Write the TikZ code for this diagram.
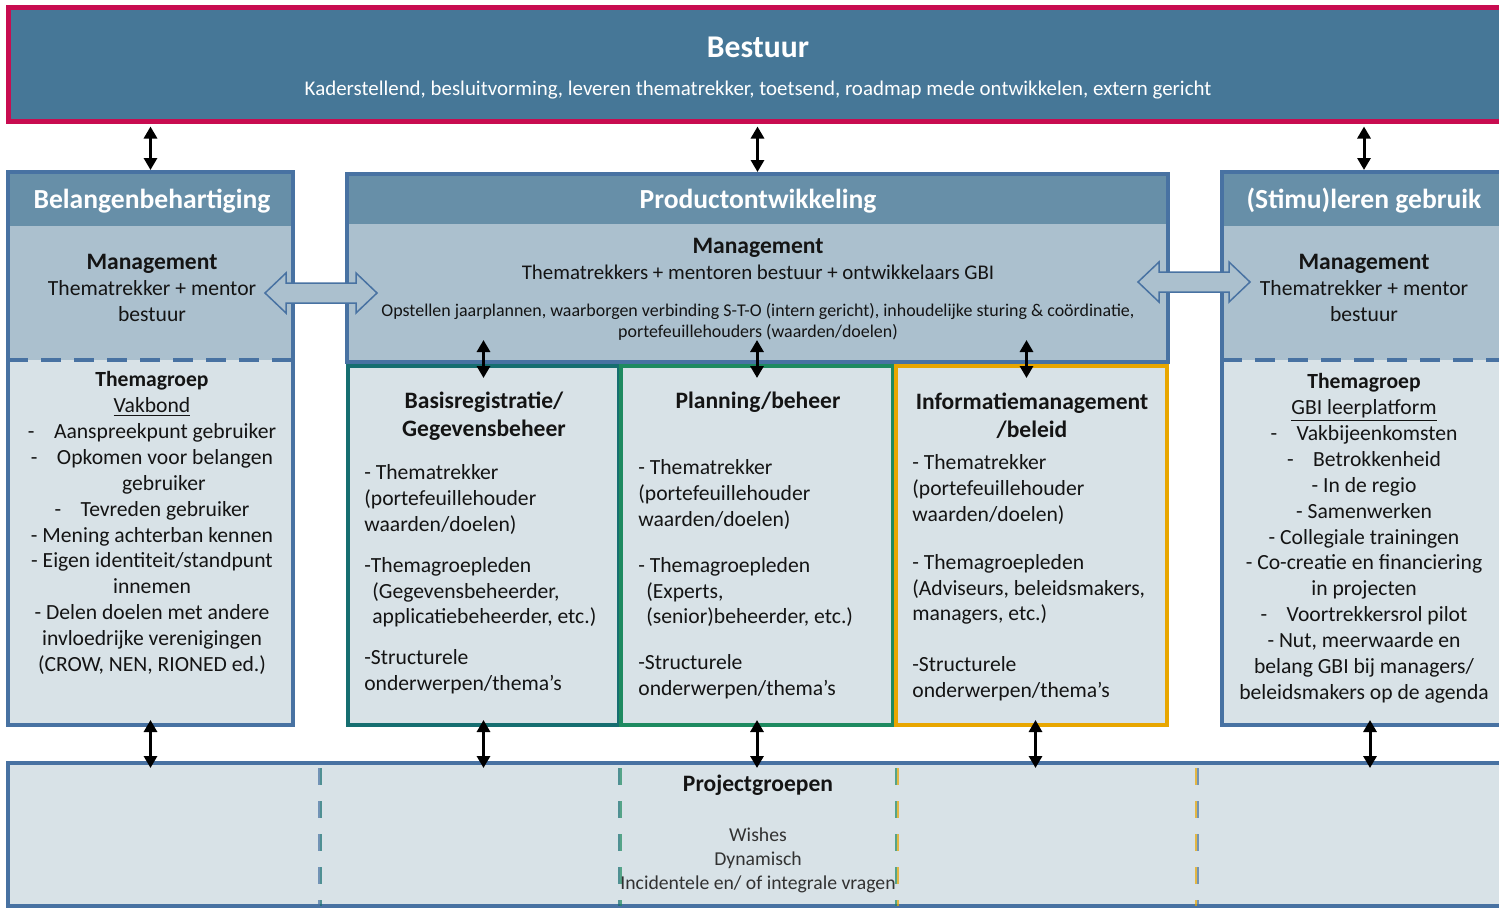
\documentclass[tikz,border=0pt]{standalone}
\usepackage{fontspec}
\setmainfont{Carlito}
\usetikzlibrary{arrows.meta,calc,fit,positioning}
\definecolor{bestuurblue}{RGB}{70,119,151}
\definecolor{bestuurred}{RGB}{200,12,80}
\definecolor{kopblue}{RGB}{103,143,168}
\definecolor{mgmtblue}{RGB}{171,192,206}
\definecolor{paleblue}{RGB}{216,226,231}
\definecolor{randblue}{RGB}{72,114,162}
\definecolor{randteal}{RGB}{22,110,112}
\definecolor{randgreen}{RGB}{30,138,96}
\definecolor{randorange}{RGB}{232,166,0}
\definecolor{tekst}{RGB}{20,20,20}
\definecolor{grijs}{RGB}{50,50,50}
\newcommand{\kop}{\fontsize{15.7}{18}\selectfont\bfseries}
\newcommand{\mgt}{\fontsize{13.4}{15.9}\selectfont\bfseries}
\newcommand{\gewoon}{\fontsize{12.3}{14.75}\selectfont}
\newcommand{\klein}{\fontsize{10.2}{11.9}\selectfont}
\newcommand{\streep}{-\hspace{0.9em}}
\tikzset{
  vak/.style={inner sep=0pt,line width=0.8mm},
  twoway/.style={line width=0.6mm,{Triangle[length=2.4mm,width=2.6mm]}-{Triangle[length=2.4mm,width=2.6mm]}},
  hol/.style={draw=randblue,fill=mgmtblue,line width=0.3mm,line join=miter},
  txt/.style={inner sep=0pt,text=tekst,align=center,font=\gewoon},
  lijst/.style={inner sep=0pt,text=tekst,align=left,font=\gewoon,anchor=north west},
  scheiding/.style={line width=0.5mm,dash pattern=on 3.4mm off 3.2mm,opacity=0.7},
  dubbelpijl/.pic={
    \draw[hol] (-56,0) -- (-35,-20) -- (-35,-10) -- (35,-10) -- (35,-20) -- (56,0)
      -- (35,20) -- (35,10) -- (-35,10) -- (-35,20) -- cycle;
  }
}
\begin{document}
\begin{tikzpicture}[x=0.2mm,y=-0.2mm]
    \useasboundingbox (0,0) rectangle (1499,909);

    % bestuur
    \node[vak,fit={(8,7)(1506,121)},fill=bestuurblue,draw=bestuurred,line width=1mm] (bestuur) {};
    \node[txt,font=\fontsize{18}{21}\selectfont\bfseries,text=white] (bestuurkop) at (758,47) {Bestuur};
    \node[txt,font=\fontsize{11.9}{14}\selectfont,text=white] (bestuurtaak) at (758,90) {Kaderstellend, besluitvorming, leveren thematrekker, toetsend, roadmap mede ontwikkelen, extern gericht};

    % zijkolommen
    \foreach \xa/\xb/\naam in {8/293/belang,1222/1506/stimu}{
        \fill[paleblue] (\xa,172) rectangle (\xb,725);
        \fill[kopblue] (\xa,172) rectangle (\xb,226);
        \fill[mgmtblue] (\xa,226) rectangle (\xb,360);
        \draw[randblue,line width=0.8mm,dash pattern=on 4mm off 2.6mm] (\xa,360) -- (\xb,360);
        \node[vak,fit={(\xa,172)(\xb,725)},draw=randblue] (\naam) {};
    }

    % productontwikkeling
    \fill[kopblue] (347,174) rectangle (1168,224);
    \fill[mgmtblue] (347,224) rectangle (1168,362);
    \node[vak,fit={(347,174)(1168,362)},draw=randblue] (product) {};
    \node[vak,fit={(348,366)(619,725)},fill=paleblue,draw=randteal] (basis) {};
    \node[vak,fit={(621,366)(893,725)},fill=paleblue,draw=randgreen] (planning) {};
    \node[vak,fit={(896,366)(1167,725)},fill=paleblue,draw=randorange] (info) {};

    % projectgroepen
    \node[vak,fit={(8,763)(1506,906)},fill=paleblue,draw=randblue] (project) {};
    \foreach \xpos/\links/\rechts in {320/randblue/randteal,620/randteal/randgreen,897/randgreen/randorange,1197/randorange/randblue}{
        \draw[scheiding,\links] (\xpos-1.2,768) -- (\xpos-1.2,906);
        \draw[scheiding,\rechts] (\xpos+1.2,768) -- (\xpos+1.2,906);
    }

    % pijlen
    \draw[twoway] ($(belang.north |- bestuur.south)+(0,3)$) -- (belang.north);
    \draw[twoway] ($(product.north |- bestuur.south)+(0,3)$) -- (product.north);
    \draw[twoway] ($(stimu.north |- bestuur.south)+(0,3)$) -- (stimu.north);
    \draw[twoway] ($(basis.north)+(0,-24)$) -- ($(basis.north)+(0,14)$);
    \draw[twoway] ($(planning.north)+(0,-24)$) -- ($(planning.north)+(0,14)$);
    \draw[twoway] ($(info.north)+(-5,-24)$) -- ($(info.north)+(-5,14)$);
    \draw[twoway] ($(belang.south)+(0,-7)$) -- ($(belang.south |- project.north)+(0,7)$);
    \draw[twoway] ($(basis.south)+(0,-7)$) -- ($(basis.south |- project.north)+(0,7)$);
    \draw[twoway] ($(planning.south)+(0,-7)$) -- ($(planning.south |- project.north)+(0,7)$);
    \draw[twoway] ($(info.south)+(4,-7)$) -- ($(info.south |- project.north)+(4,7)$);
    \draw[twoway] ($(stimu.south)+(6,-7)$) -- ($(stimu.south |- project.north)+(6,7)$);
    \pic at (321,293) {dubbelpijl};
    \pic at (1194,282) {dubbelpijl};

    % teksten links
    \node[txt,font=\kop,text=white] (belangkop) at (152,201) {Belangenbehartiging};
    \node[txt] (belangmgmt) at (152,288) {{\mgt Management}\\Thematrekker + mentor\\bestuur};
    \node[txt,anchor=north] (vakbond) at (152,371) {{\bfseries Themagroep}\\\underline{Vakbond}\\
        \streep Aanspreekpunt gebruiker\\\streep Opkomen voor belangen\\\hspace*{1.1em}gebruiker\\
        \streep Tevreden gebruiker\\- Mening achterban kennen\\- Eigen identiteit/standpunt\\innemen\\
        - Delen doelen met andere\\invloedrijke verenigingen\\(CROW, NEN, RIONED ed.)};

    % teksten midden
    \node[txt,font=\kop,text=white] (productkop) at (758,201) {Productontwikkeling};
    \node[txt] (productmgmt) at (758,259) {{\mgt Management}\\{\fontsize{11.9}{14.75}\selectfont Thematrekkers + mentoren bestuur + ontwikkelaars GBI}};
    \node[txt,font=\klein] (producttaak) at (758,322) {Opstellen jaarplannen, waarborgen verbinding S-T-O (intern gericht), inhoudelijke sturing \& coördinatie,\\portefeuillehouders (waarden/doelen)};
    \node[txt,font=\mgt] (basiskop) at (484,416) {Basisregistratie/\\Gegevensbeheer};
    \node[txt,font=\mgt] (planningkop) at (758,402) {Planning/beheer};
    \node[txt,font=\mgt] (infokop) at (1032,416) {Informatiemanagement\\/beleid};
    \node[lijst] (basistaak) at (364,464) {- Thematrekker\\(portefeuillehouder\\waarden/doelen)\\[3mm]
        -Themagroepleden\\\hspace*{1.6mm}(Gegevensbeheerder,\\\hspace*{1.6mm}applicatiebeheerder, etc.)\\[3mm]
        -Structurele\\onderwerpen/thema’s};
    \node[lijst] (planningtaak) at (638,459) {- Thematrekker\\(portefeuillehouder\\waarden/doelen)\\[4mm]
        - Themagroepleden\\\hspace*{1.6mm}(Experts,\\\hspace*{1.6mm}(senior)beheerder, etc.)\\[4mm]
        -Structurele\\onderwerpen/thema’s};
    \node[lijst] (infotaak) at (912,454) {- Thematrekker\\(portefeuillehouder\\waarden/doelen)\\[4.4mm]
        - Themagroepleden\\(Adviseurs, beleidsmakers,\\managers, etc.)\\[5mm]
        -Structurele\\onderwerpen/thema’s};

    % teksten rechts
    \node[txt,font=\kop,text=white] (stimukop) at (1364,201) {(Stimu)leren gebruik};
    \node[txt] (stimumgmt) at (1364,288) {{\mgt Management}\\Thematrekker + mentor\\bestuur};
    \node[txt,anchor=north] (leerplatform) at (1364,373) {{\bfseries Themagroep}\\\underline{GBI leerplatform}\\
        \streep Vakbijeenkomsten\\\streep Betrokkenheid\\- In de regio\\- Samenwerken\\- Collegiale trainingen\\
        - Co-creatie en financiering\\in projecten\\\streep Voortrekkersrol pilot\\- Nut, meerwaarde en\\
        belang GBI bij managers/\\beleidsmakers op de agenda};

    % teksten onder
    \node[txt,font=\mgt] (projectkop) at (758,785) {Projectgroepen};
    \node[txt,font=\fontsize{11.2}{13.6}\selectfont,text=grijs] (projecttaak) at (758,860) {Wishes\\Dynamisch\\Incidentele en/ of integrale vragen};
\end{tikzpicture}
\end{document}
